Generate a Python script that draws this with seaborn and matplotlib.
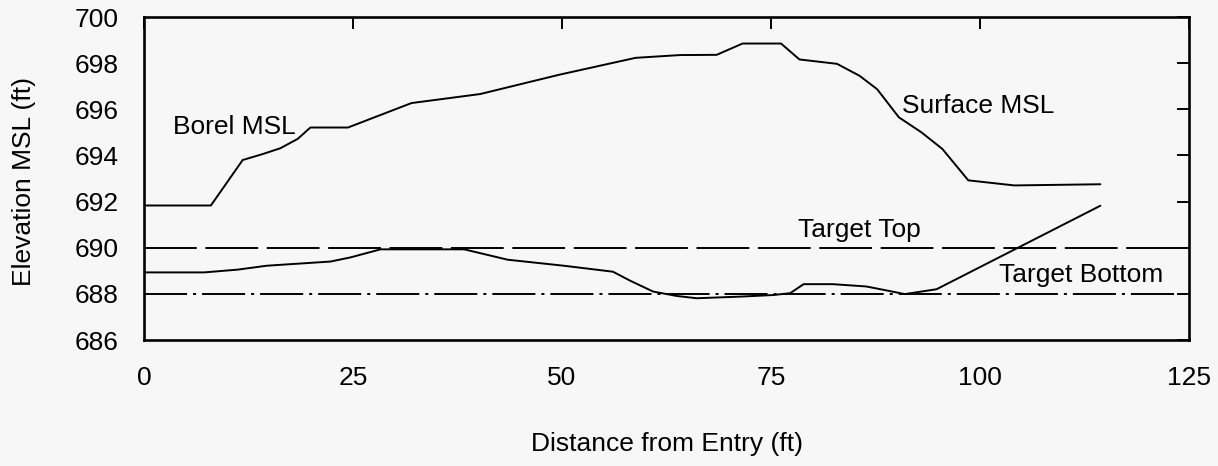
import matplotlib
matplotlib.use("Agg")
import matplotlib.pyplot as plt
import seaborn as sns
import pandas as pd

# Ground surface elevation along the bore path (ft MSL)
surface_x = [0, 8.0, 11.8, 14.2, 16.3, 18.4, 19.9, 24.4, 32.0, 40.2, 49.7, 58.8,
             64.1, 68.5, 71.6, 76.2, 78.4, 82.9, 85.6, 87.7, 90.3, 93.0, 95.5,
             98.6, 104.1, 114.4]
surface_y = [691.83, 691.83, 693.80, 694.06, 694.31, 694.72, 695.21, 695.21,
             696.27, 696.66, 697.50, 698.23, 698.35, 698.36, 698.85, 698.85,
             698.16, 697.97, 697.45, 696.87, 695.65, 695.00, 694.28, 692.92,
             692.70, 692.75]

# Bore elevation along the path (ft MSL)
bore_x = [0, 7.2, 11.2, 14.7, 22.3, 24.7, 28.3, 38.3, 43.5, 50.2, 56.1, 58.1,
          60.9, 63.7, 66.1, 71.3, 75.3, 77.3, 78.9, 82.4, 86.4, 88.8, 91.0,
          94.8, 114.4]
bore_y = [688.93, 688.93, 689.05, 689.22, 689.40, 689.58, 689.93, 689.93,
          689.48, 689.22, 688.96, 688.58, 688.10, 687.91, 687.81, 687.88,
          687.95, 688.03, 688.42, 688.42, 688.32, 688.15, 687.99, 688.20,
          691.82]

# Target zone limits (ft MSL)
target_top = 690
target_bottom = 688

x_ticks = [0, 25, 50, 75, 100, 125]
y_ticks = [686, 688, 690, 692, 694, 696, 698, 700]

sns.set_style("white")
plt.rcParams["font.family"] = ["Liberation Sans", "DejaVu Sans"]
plt.rcParams["lines.scale_dashes"] = False
plt.rcParams["text.color"] = "black"
plt.rcParams["axes.labelcolor"] = "black"
plt.rcParams["xtick.color"] = "black"
plt.rcParams["ytick.color"] = "black"

bg = "#f7f7f7"
fig = plt.figure(figsize=(12.18, 4.66), dpi=100, facecolor=bg)
ax = fig.add_axes([144 / 1218, 1 - 340 / 466, 1045 / 1218, 323 / 466])
ax.set_facecolor(bg)

surface = pd.DataFrame({"x": surface_x, "y": surface_y})
bore = pd.DataFrame({"x": bore_x, "y": bore_y})

sns.lineplot(data=surface, x="x", y="y", ax=ax, color="black", lw=1.4,
             sort=False, estimator=None)
sns.lineplot(data=bore, x="x", y="y", ax=ax, color="black", lw=1.4,
             sort=False, estimator=None)

top_line = pd.DataFrame({"x": [0, 125], "y": [target_top, target_top]})
bot_line = pd.DataFrame({"x": [0, 125], "y": [target_bottom, target_bottom]})
l1 = sns.lineplot(data=top_line, x="x", y="y", ax=ax, color="black", lw=1.4,
                  estimator=None).lines[-1]
l1.set_dashes((38, 6.2))
l2 = sns.lineplot(data=bot_line, x="x", y="y", ax=ax, color="black", lw=1.4,
                  estimator=None).lines[-1]
l2.set_dashes((31, 4.3, 2.2, 4.3))

ax.set_xlim(0, 125)
ax.set_ylim(686, 700)
ax.set_xticks(x_ticks)
ax.set_yticks(y_ticks)
ax.set_xlabel("")
ax.set_ylabel("")

for s in ax.spines.values():
    s.set_visible(True)
    s.set_linewidth(1.9)
    s.set_color("black")

ax.tick_params(axis="both", which="major", direction="in", length=8.6,
               width=1.4, color="black", labelcolor="black", labelsize=19,
               top=True, right=True)
ax.tick_params(axis="y", pad=18)
ax.tick_params(axis="x", pad=19)

fs = 19
ax.text(3.47, 694.93, "Borel MSL", fontsize=fs, ha="left", va="baseline")
ax.text(90.7, 695.83, "Surface MSL", fontsize=fs, ha="left", va="baseline")
ax.text(78.2, 690.47, "Target Top", fontsize=fs, ha="left", va="baseline")
ax.text(102.3, 688.51, "Target Bottom", fontsize=fs, ha="left", va="baseline")

fig.text(667 / 1218, 1 - 444 / 466, "Distance from Entry (ft)", fontsize=fs,
         ha="center", va="center")
fig.text(24 / 1218, 1 - 182 / 466, "Elevation MSL (ft)", fontsize=fs,
         ha="center", va="center", rotation=90)

fig.savefig("out.png", dpi=100, facecolor=bg)
